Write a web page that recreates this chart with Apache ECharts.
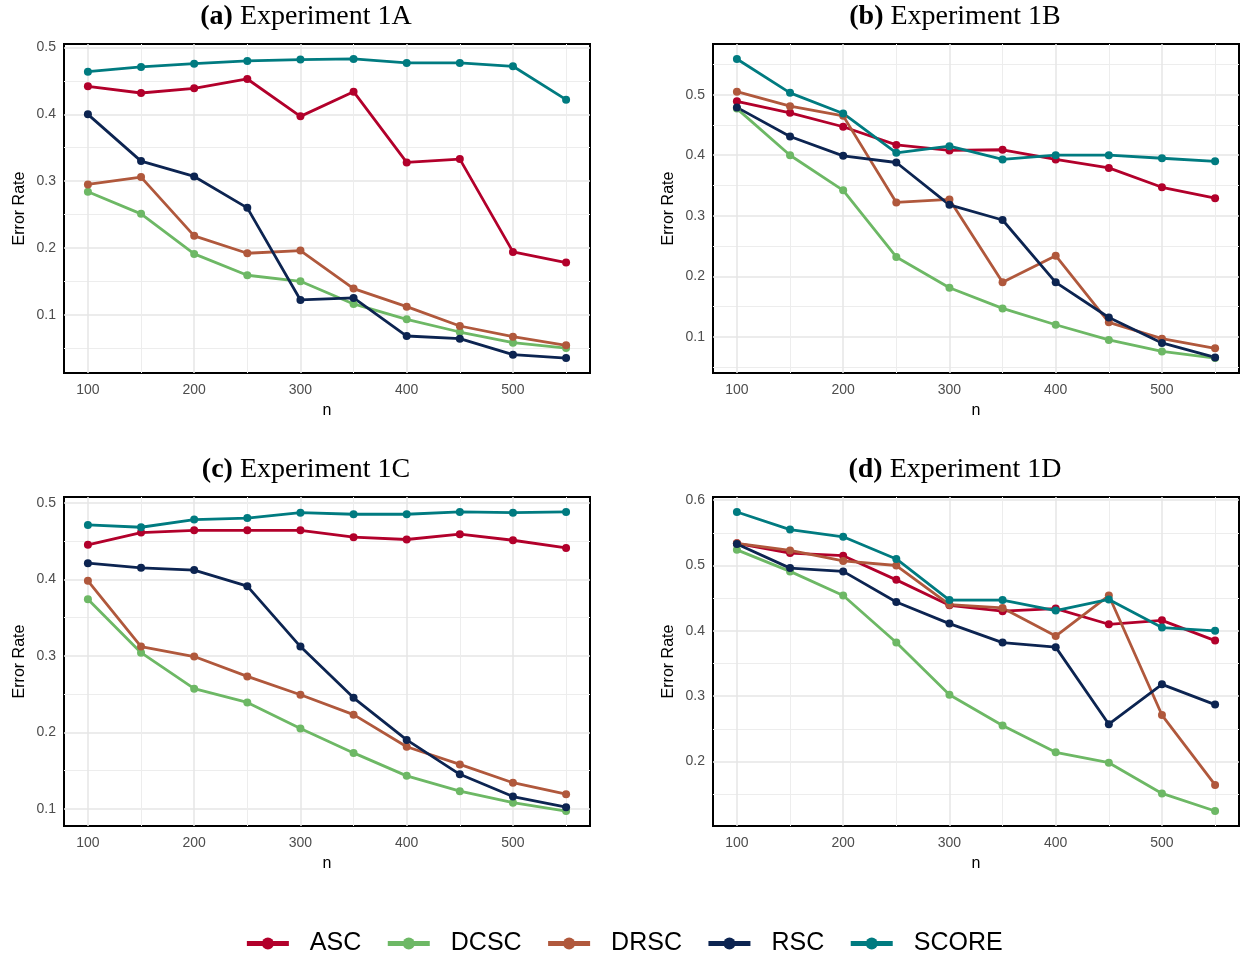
<!DOCTYPE html>
<html>
<head>
<meta charset="utf-8">
<script src="https://cdn.jsdelivr.net/npm/echarts@6/dist/echarts.min.js"></script>
<style>
  html, body { margin: 0; padding: 0; background: #fff; }
  #chartmain { width: 1247px; height: 960px; }
</style>
</head>
<body>
<div id="chartmain"></div>
<script>
// sample sizes
var nValues = [100, 150, 200, 250, 300, 350, 400, 450, 500, 550];
var methods = ['ASC', 'DCSC', 'DRSC', 'RSC', 'SCORE'];
var panelTags = ['(a)', '(b)', '(c)', '(d)'];
var panelNames = ['Experiment 1A', 'Experiment 1B', 'Experiment 1C', 'Experiment 1D'];

// Experiment 1A
var ascA   = [0.442, 0.432, 0.439, 0.453, 0.397, 0.434, 0.328, 0.333, 0.194, 0.178];
var dcscA  = [0.284, 0.251, 0.191, 0.159, 0.150, 0.116, 0.093, 0.074, 0.058, 0.050];
var drscA  = [0.295, 0.306, 0.218, 0.192, 0.196, 0.139, 0.112, 0.083, 0.067, 0.054];
var rscA   = [0.400, 0.330, 0.307, 0.260, 0.122, 0.125, 0.068, 0.064, 0.040, 0.035];
var scoreA = [0.464, 0.471, 0.476, 0.480, 0.482, 0.483, 0.477, 0.477, 0.472, 0.422];

// Experiment 1B
var ascB   = [0.489, 0.470, 0.447, 0.417, 0.408, 0.409, 0.393, 0.379, 0.347, 0.329];
var dcscB  = [0.477, 0.400, 0.342, 0.232, 0.181, 0.147, 0.120, 0.095, 0.076, 0.065];
var drscB  = [0.505, 0.481, 0.465, 0.322, 0.327, 0.190, 0.234, 0.124, 0.097, 0.081];
var rscB   = [0.479, 0.431, 0.399, 0.388, 0.318, 0.293, 0.190, 0.132, 0.090, 0.066];
var scoreB = [0.559, 0.503, 0.469, 0.404, 0.415, 0.393, 0.400, 0.400, 0.395, 0.390];

// Experiment 1C
var ascC   = [0.445, 0.461, 0.464, 0.464, 0.464, 0.455, 0.452, 0.459, 0.451, 0.441];
var dcscC  = [0.374, 0.304, 0.257, 0.239, 0.205, 0.173, 0.143, 0.123, 0.108, 0.097];
var drscC  = [0.398, 0.312, 0.299, 0.273, 0.249, 0.223, 0.181, 0.158, 0.134, 0.119];
var rscC   = [0.421, 0.415, 0.412, 0.391, 0.312, 0.245, 0.190, 0.145, 0.116, 0.102];
var scoreC = [0.471, 0.468, 0.478, 0.480, 0.487, 0.485, 0.485, 0.488, 0.487, 0.488];

// Experiment 1D
var ascD   = [0.534, 0.519, 0.515, 0.478, 0.439, 0.430, 0.434, 0.410, 0.416, 0.385];
var dcscD  = [0.524, 0.491, 0.454, 0.382, 0.302, 0.255, 0.214, 0.198, 0.151, 0.124];
var drscD  = [0.534, 0.523, 0.507, 0.500, 0.440, 0.435, 0.392, 0.454, 0.271, 0.164];
var rscD   = [0.533, 0.496, 0.491, 0.444, 0.411, 0.382, 0.375, 0.257, 0.318, 0.287];
var scoreD = [0.582, 0.555, 0.544, 0.510, 0.447, 0.447, 0.431, 0.448, 0.405, 0.400];

var panelData = [
  [ascA, dcscA, drscA, rscA, scoreA],
  [ascB, dcscB, drscB, rscB, scoreB],
  [ascC, dcscC, drscC, rscC, scoreC],
  [ascD, dcscD, drscD, rscD, scoreD]
];

var colors = ['#b2002b', '#6db865', '#b0583c', '#0c2451', '#007b80'];

// plot boxes (left, top) ; same size for all
var boxes = [[64, 44], [713, 44], [64, 497], [713, 497]];
var boxW = 526, boxH = 329;
var titleX = [301, 950, 301, 950];

// ggplot-like 5% expansion
function expand(arrs) {
  var lo = Infinity, hi = -Infinity;
  arrs.forEach(function (a) {
    a.forEach(function (v) { lo = Math.min(lo, v); hi = Math.max(hi, v); });
  });
  var d = (hi - lo) * 0.05;
  return [lo - d, hi + d];
}

var xr = expand([nValues]);

var grids = [], xAxes = [], yAxes = [], titles = [], series = [];
for (var p = 0; p < 4; p++) {
  grids.push({
    left: boxes[p][0], top: boxes[p][1], width: boxW, height: boxH,
    show: true, borderColor: '#000', borderWidth: 2, backgroundColor: '#fff'
  });
  xAxes.push({
    type: 'value', gridIndex: p, min: xr[0], max: xr[1], splitNumber: 5,
    name: 'n', nameLocation: 'middle', nameGap: 30,
    nameTextStyle: { color: '#000', fontSize: 16, fontFamily: 'Liberation Sans' },
    axisLine: { show: false }, axisTick: { show: false },
    axisLabel: { color: '#4d4d4d', fontSize: 14, fontFamily: 'Liberation Sans', margin: 10,
      showMinLabel: false, showMaxLabel: false },
    splitLine: { show: true, showMinLine: false, showMaxLine: false,
      lineStyle: { color: '#e6e6e6', width: 1.5 } },
    minorTick: { show: false, splitNumber: 2 },
    minorSplitLine: { show: true, lineStyle: { color: '#ededed', width: 1 } }
  });
  var yr = expand(panelData[p]);
  yAxes.push({
    type: 'value', gridIndex: p, min: yr[0], max: yr[1], splitNumber: 5,
    name: 'Error Rate', nameLocation: 'middle', nameGap: 36,
    nameTextStyle: { color: '#000', fontSize: 16, fontFamily: 'Liberation Sans' },
    axisLine: { show: false }, axisTick: { show: false },
    axisLabel: { color: '#4d4d4d', fontSize: 14, fontFamily: 'Liberation Sans', margin: 8,
      showMinLabel: false, showMaxLabel: false },
    splitLine: { show: true, showMinLine: false, showMaxLine: false,
      lineStyle: { color: '#e6e6e6', width: 1.5 } },
    minorTick: { show: false, splitNumber: 2 },
    minorSplitLine: { show: true, lineStyle: { color: '#ededed', width: 1 } }
  });
  titles.push({
    text: '{b|' + panelTags[p] + '} ' + panelNames[p],
    left: titleX[p], top: boxes[p][1] - 46, textAlign: 'center',
    textStyle: {
      fontFamily: 'Liberation Serif', fontSize: 28, fontWeight: 'normal', color: '#000',
      rich: { b: { fontFamily: 'Liberation Serif', fontSize: 28, fontWeight: 'bold', color: '#000' } }
    }
  });
  for (var m = 0; m < methods.length; m++) {
    series.push({
      name: methods[m], type: 'line',
      xAxisIndex: p, yAxisIndex: p,
      data: nValues.map(function (n, i) { return [n, panelData[p][m][i]]; }),
      symbol: 'circle', symbolSize: 8,
      lineStyle: { width: 2.8, color: colors[m] },
      itemStyle: { color: colors[m] },
      emphasis: { disabled: true },
      animation: false
    });
  }
}

var myChart = echarts.init(document.getElementById('chartmain'));
myChart.setOption({
  backgroundColor: '#fff',
  animation: false,
  title: titles,
  grid: grids,
  xAxis: xAxes,
  yAxis: yAxes,
  legend: {
    data: methods, left: 'center', top: 926,
    itemWidth: 42, itemHeight: 15, itemGap: 24,
    lineStyle: { width: 5 },
    textStyle: { fontSize: 25, fontFamily: 'Liberation Sans', color: '#000', padding: [0, 0, 0, 16] }
  },
  series: series
});
</script>
</body>
</html>
